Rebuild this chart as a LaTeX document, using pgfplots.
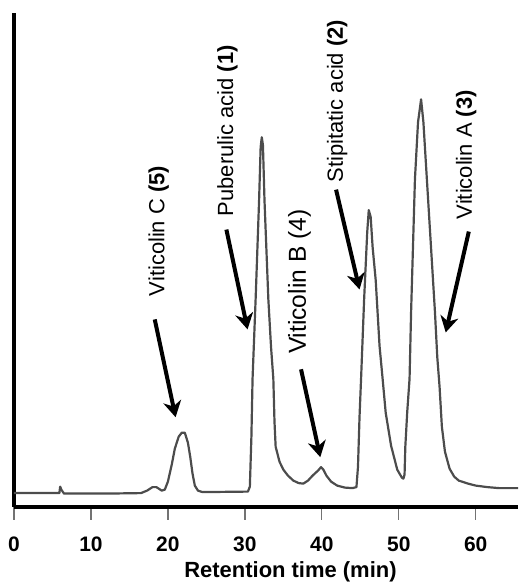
\documentclass[border=0pt]{standalone}
\usepackage{pgfplots}
\pgfplotsset{compat=1.18}
\usepackage{fontspec}
\setmainfont{Liberation Sans}
\usetikzlibrary{arrows.meta}

\begin{document}
\begin{tikzpicture}
\begin{axis}[
    scale only axis, width=252.5pt, height=247pt,
    xmin=0, xmax=65.5, ymin=0, ymax=494,
    axis x line=bottom, axis y line=left,
    axis line style={-, line width=2pt, black},
    xtick={0,10,...,60}, ytick=\empty,
    tick align=outside, major tick length=6.5pt,
    x tick style={line width=0.65pt, black!55},
    /pgf/number format/assume math mode=true,
    xticklabel style={font=\bfseries\fontsize{10.5}{12}\selectfont, yshift=-5.25pt},
    xlabel={\textbf{Retention time (min)}},
    xlabel style={font=\fontsize{11}{13}\selectfont, at={(axis description cs:0.5485,0)}, anchor=base, inner sep=0pt, yshift=-35.5pt},
    clip=false,
]
% chromatogram trace
\addplot[black!70, line width=1.1pt, line join=round] coordinates {
(0,13.5) (5.9,13.5) (6.0,20) (6.15,17) (6.5,13) (12,13) (16.5,13.5)
(17.3,16) (18.0,19.5) (18.5,19.5) (19.2,16) (19.6,17) (20.0,25) (20.5,42)
(20.9,58) (21.4,70) (21.8,74) (22.2,74) (22.6,64) (22.9,50) (23.2,33)
(23.5,21) (23.9,16) (24.5,14.5) (30.4,15) (30.65,20) (30.85,70) (31.0,128)
(31.4,208) (31.85,307) (32.05,360) (32.2,370) (32.35,362) (32.55,307)
(33.05,208) (33.4,160) (33.7,128) (33.85,85) (34.0,60) (34.5,45) (35.0,37)
(35.6,31) (36.3,26) (37.0,23.5) (37.6,23) (38.2,26) (38.8,31) (39.5,36)
(39.9,39.5) (40.2,37) (40.6,31) (41.2,25) (42.0,21) (43.0,19) (44.0,18.5)
(44.5,19.5) (44.7,40) (44.9,90) (45.1,128) (45.5,208) (45.9,275) (46.1,297)
(46.35,290) (46.6,260) (47.0,227) (47.5,161) (47.9,128) (48.3,94) (49.0,61)
(49.8,37) (50.4,29) (50.6,28) (50.75,32) (50.85,60) (51.1,95) (51.4,128)
(51.6,195) (52.1,328) (52.5,385) (52.9,408) (53.2,385) (53.65,328) (54.7,195)
(55.0,150) (55.3,120) (55.6,80) (56.0,55) (56.6,38) (57.2,30) (57.8,26)
(59.0,23) (60.0,21) (61.5,19.5) (63.0,18.5) (65.5,18.5)
};
% annotations
\begin{scope}[every node/.style={rotate=90, anchor=west, inner sep=0pt, font=\fontsize{11}{13}\selectfont}]
\node at (axis cs:18.8,210.5) {Viticolin C \textbf{(5)}};
\node at (axis cs:27.75,290.5) {Puberulic acid \textbf{(1)}};
\node[font=\fontsize{12.3}{14}\selectfont] at (axis cs:37.1,152.5) {Viticolin B (4)};
\node at (axis cs:42.0,324.5) {Stipitatic acid \textbf{(2)}};
\node at (axis cs:58.75,287.5) {Viticolin A \textbf{(3)}};
\end{scope}
\begin{scope}[line width=2pt, -{Stealth[length=8pt, width=9pt, inset=2.5pt]}]
\draw (axis cs:18.29,187.5) -- (axis cs:21.0,89.5);
\draw (axis cs:27.6,277.5) -- (axis cs:30.35,177.5);
\draw (axis cs:37.3,137.5) -- (axis cs:39.8,49.5);
\draw (axis cs:41.85,317.5) -- (axis cs:44.9,217.5);
\draw (axis cs:59.1,275.5) -- (axis cs:56.1,174.5);
\end{scope}
\coordinate (bbA) at (axis cs:-1.816,-74.5);
\coordinate (bbB) at (axis cs:65.5,507.5);
\end{axis}
\path (bbA) rectangle (bbB);
\end{tikzpicture}
\end{document}
